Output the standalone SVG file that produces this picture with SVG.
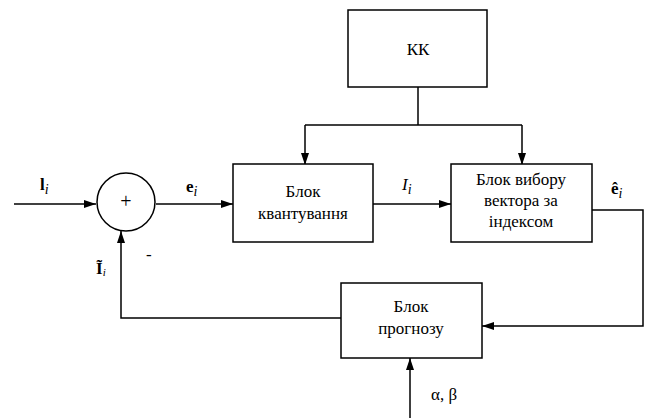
<svg xmlns="http://www.w3.org/2000/svg" width="646" height="418" viewBox="0 0 646 418">
<defs>
<marker id="ar" markerWidth="12" markerHeight="8" refX="12" refY="4" orient="auto" markerUnits="userSpaceOnUse">
<path d="M0,0 L12,4 L0,8 Z" fill="#000"/>
</marker>
<style>
.b{fill:#fff;stroke:#000;stroke-width:1.5}
.l{fill:none;stroke:#000;stroke-width:1.5}
text{font-family:"Liberation Serif","Times New Roman","DejaVu Serif",Times,serif}
.t{font-size:17px;text-anchor:middle;fill:#000}
.m{font-size:17px;fill:#000}
</style>
</defs>
<rect width="646" height="418" fill="#fff"/>
<g id="connectors">
<path class="l" d="M14,204 H96" marker-end="url(#ar)"/>
<path class="l" d="M156,204 H233" marker-end="url(#ar)"/>
<path class="l" d="M373,204 H451" marker-end="url(#ar)"/>
<path class="l" d="M418,87 V125"/>
<path class="l" d="M305,125 H522"/>
<path class="l" d="M305,125 V165" marker-end="url(#ar)"/>
<path class="l" d="M522,125 V165" marker-end="url(#ar)"/>
<path class="l" d="M592,210 H643 V326 H482" marker-end="url(#ar)"/>
<path class="l" d="M341,318 H121 V231" marker-end="url(#ar)"/>
<path class="l" d="M410,418 V358" marker-end="url(#ar)"/>
</g>
<g id="sum">
<circle class="b" cx="126" cy="202" r="29"/>
<text class="t" x="126" y="208" style="font-size:20px">+</text>
</g>
<g id="kk">
<rect class="b" x="348" y="10" width="139" height="77"/>
<text class="t" x="418" y="55">КК</text>
</g>
<g id="quant">
<rect class="b" x="233" y="164" width="140" height="78"/>
<text class="t" x="303" y="197">Блок</text>
<text class="t" x="303" y="219">квантування</text>
</g>
<g id="vybir">
<rect class="b" x="451" y="164" width="141" height="78"/>
<text class="t" x="521" y="185">Блок вибору</text>
<text class="t" x="521" y="206">вектора за</text>
<text class="t" x="521" y="227">індексом</text>
</g>
<g id="prognoz">
<rect class="b" x="341" y="283" width="141" height="75"/>
<text class="t" x="411" y="312">Блок</text>
<text class="t" x="411" y="334">прогнозу</text>
</g>
<g id="labels">
<text class="m" x="40" y="190" font-weight="bold">l<tspan font-style="italic" font-weight="normal" font-size="14" dy="4">i</tspan></text>
<text class="m" x="186" y="192" font-weight="bold">e<tspan font-style="italic" font-weight="normal" font-size="14" dy="4">i</tspan></text>
<text class="m" x="402" y="190" font-style="italic">I<tspan font-size="14" dy="4">i</tspan></text>
<text class="m" x="611" y="194" font-weight="bold">ê<tspan font-style="italic" font-weight="normal" font-size="14" dy="4">i</tspan></text>
<text class="m" x="96" y="274" font-weight="bold">Ĩ<tspan font-style="italic" font-weight="normal" font-size="11" dy="2">i</tspan></text>
<text class="m" x="146" y="260">-</text>
<text class="m" x="431" y="400" font-size="16">α, β</text>
</g>
</svg>
